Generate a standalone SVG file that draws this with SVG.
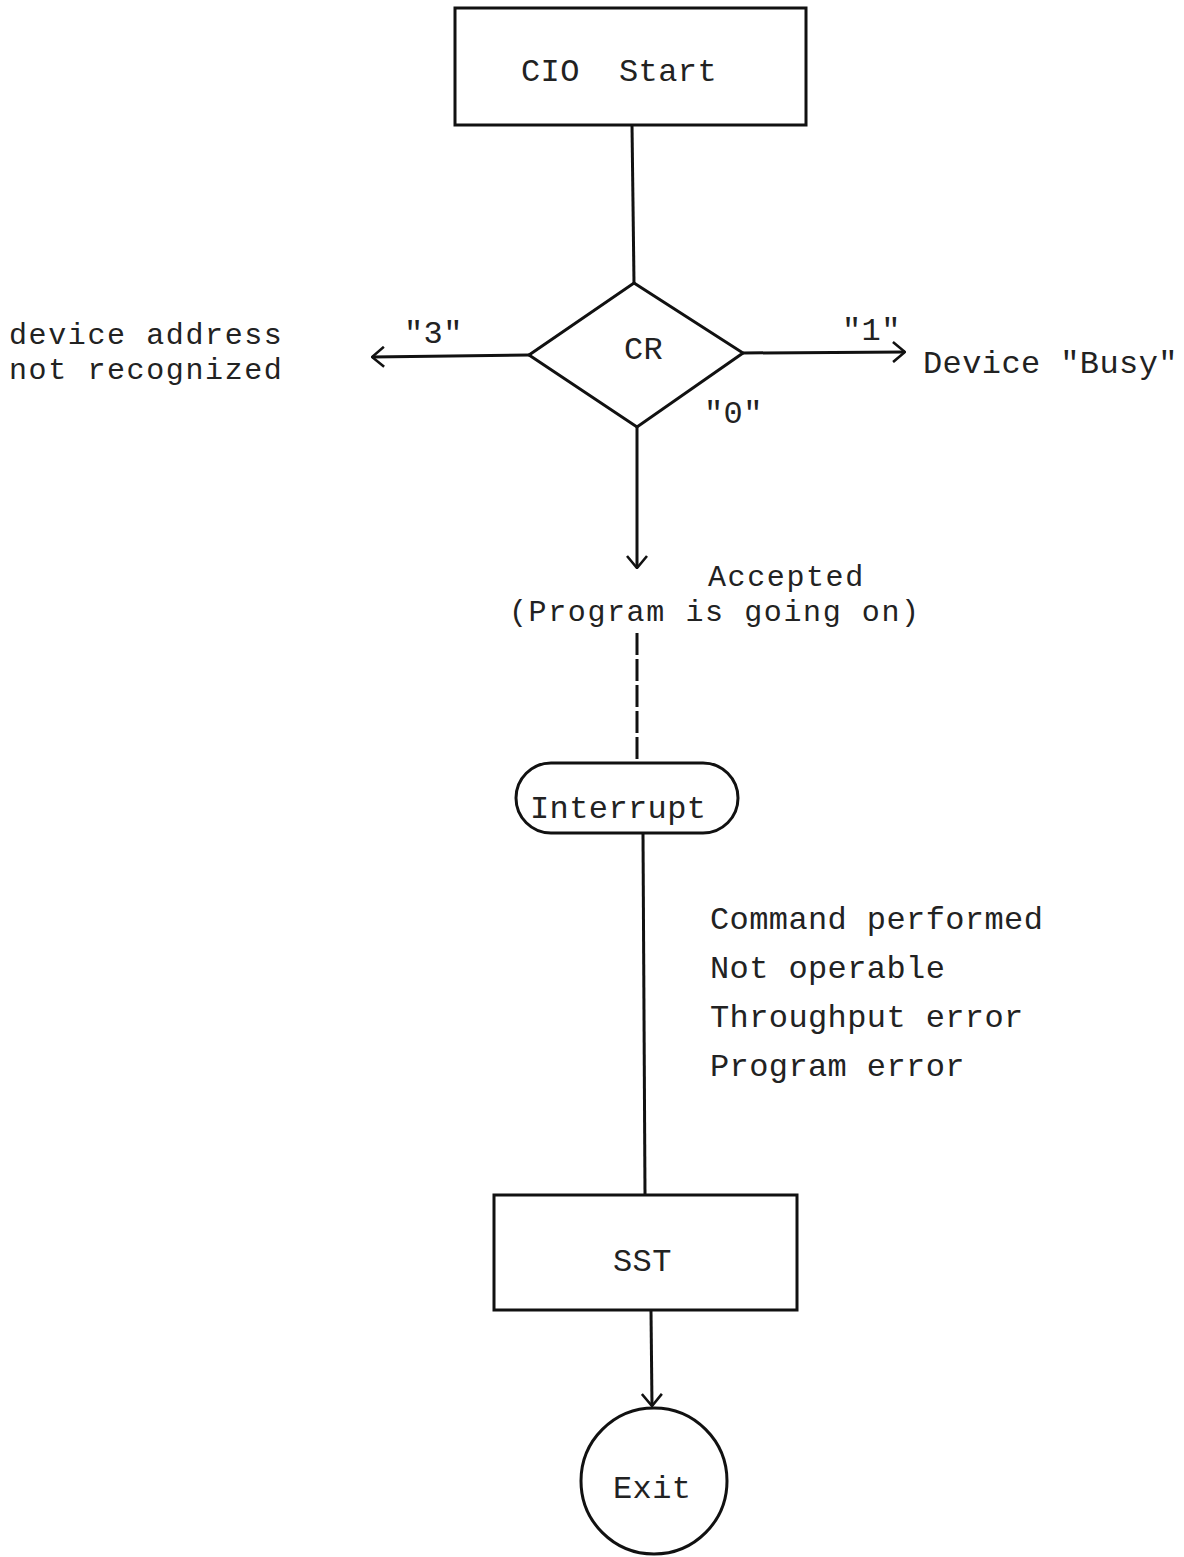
<svg xmlns="http://www.w3.org/2000/svg" width="1184" height="1557" viewBox="0 0 1184 1557">
<defs>
<style>
.t{font-family:"Liberation Mono","DejaVu Sans Mono",monospace;font-size:32px;fill:#222;letter-spacing:0.4px;white-space:pre}
.p{font-size:30px;letter-spacing:1.6px}
.s{fill:none;stroke:#111;stroke-width:3}
.c{fill:none;stroke:#111;stroke-width:3}
</style>
<marker id="ah" viewBox="0 0 14 22" refX="13" refY="11" markerWidth="14" markerHeight="22" markerUnits="userSpaceOnUse" orient="auto">
<path d="M1,1 L13,11 L1,21" fill="none" stroke="#111" stroke-width="2.6"/>
</marker>
</defs>
<rect width="1184" height="1557" fill="#fff"/>
<g id="connectors">
<line class="c" x1="632" y1="125" x2="634" y2="283"/>
<line class="c" x1="529" y1="355" x2="372" y2="357" marker-end="url(#ah)"/>
<line class="c" x1="743" y1="353" x2="905" y2="352" marker-end="url(#ah)"/>
<line class="c" x1="637" y1="427" x2="637" y2="568" marker-end="url(#ah)"/>
<line class="c" x1="637" y1="633" x2="637" y2="762" stroke-dasharray="22,4"/>
<line class="c" x1="643" y1="834" x2="645" y2="1194"/>
<line class="c" x1="651" y1="1311" x2="652" y2="1406" marker-end="url(#ah)"/>
<text class="t" x="404" y="343">"3"</text>
<text class="t" x="842" y="340">"1"</text>
<text class="t" x="704" y="423">"0"</text>
<text class="t p" x="708" y="586">Accepted</text>
<text class="t p" x="509" y="621">(Program is going on)</text>
<text class="t" x="710" y="929">Command performed</text>
<text class="t" x="710" y="978">Not operable</text>
<text class="t" x="710" y="1027">Throughput error</text>
<text class="t" x="710" y="1076">Program error</text>
</g>
<g id="cio-start">
<rect class="s" x="455" y="8" width="351" height="117"/>
<text class="t" x="521" y="81" xml:space="preserve">CIO  Start</text>
</g>
<g id="cr">
<polygon class="s" points="634,283 743,353 637,427 529,355"/>
<text class="t" x="624" y="359">CR</text>
</g>
<g id="not-recognized">
<text class="t p" x="9" y="344">device address</text>
<text class="t p" x="9" y="379">not recognized</text>
</g>
<g id="busy">
<text class="t" x="923" y="373">Device "Busy"</text>
</g>
<g id="interrupt">
<rect class="s" x="516" y="763" width="222" height="70" rx="35" ry="35"/>
<text class="t" x="530" y="818">Interrupt</text>
</g>
<g id="sst">
<rect class="s" x="494" y="1195" width="303" height="115"/>
<text class="t" x="613" y="1271">SST</text>
</g>
<g id="exit">
<circle class="s" cx="654" cy="1481" r="73"/>
<text class="t" x="613" y="1498">Exit</text>
</g>
</svg>
